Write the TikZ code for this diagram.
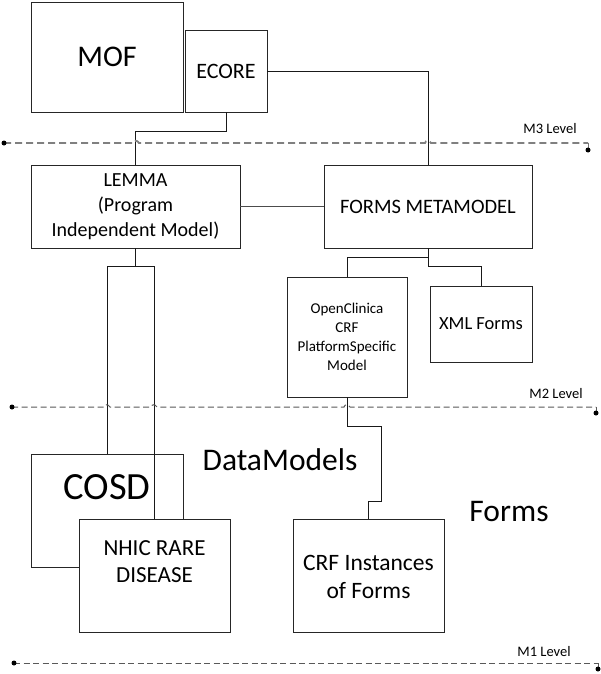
\documentclass[tikz,border=0pt]{standalone}
\usepackage{fontspec}
\setmainfont{Carlito}
\begin{document}
\begin{tikzpicture}[x=1pt,y=-1pt,
  box/.style={draw=black!85,line width=0.8pt,fill=white,inner sep=0pt,align=center},
  conn/.style={draw=black!90,line width=0.8pt},
  lvl/.style={draw=black!65,line width=1pt,dash pattern=on 6pt off 3.5pt},
  lvlthick/.style={draw=black!50,line width=1.8pt,dash pattern=on 7pt off 4pt},
  enddot/.style={fill=black,draw=none},
  lbl/.style={inner sep=0pt,align=center}]
\useasboundingbox (0,0) rectangle (601,674);
\fill[white] (0,0) rectangle (601,674);

% boxes
\node[box,minimum width=152pt,minimum height=110pt,font=\fontsize{30}{36}\selectfont] (mof) at (107,57) {MOF};
\node[box,minimum width=82pt,minimum height=82pt,font=\fontsize{22}{26}\selectfont] (ecore) at (226,71) {ECORE};
\node[box,minimum width=209pt,minimum height=83pt,font=\fontsize{20}{25}\selectfont] (lemma) at (135.5,206.5) {LEMMA\\(Program\\Independent Model)};
\node[box,minimum width=208pt,minimum height=83pt,font=\fontsize{20.5}{25}\selectfont] (forms) at (428,206.5) {FORMS METAMODEL};
\node[box,minimum width=120pt,minimum height=120pt,font=\fontsize{15}{19}\selectfont] (oc) at (347,337) {OpenClinica\\CRF\\PlatformSpecific\\Model};
\node[box,minimum width=102pt,minimum height=76pt,font=\fontsize{18.5}{22}\selectfont] (xml) at (481,324) {XML Forms};
\node[box,minimum width=152pt,minimum height=113pt] (cosd) at (107,510.5) {};
\node[lbl,font=\fontsize{38.5}{44}\selectfont] (cosdtxt) at (107,487) {COSD};
\node[box,minimum width=151pt,minimum height=113pt] (crf) at (368.5,575.5) {};
\node[lbl,font=\fontsize{23.5}{28}\selectfont] (crftxt) at (368.5,577) {CRF Instances\\of Forms};

% connectors
\draw[conn] (ecore.south) -- ++(0,19) -| (lemma.north);
\draw[conn] (ecore.east) -| (forms.north);
\draw[draw=black!70,line width=1.3pt] (lemma.east) -- (forms.west);
\draw[conn] (forms.south) -- ++(0,9) -| (oc.north);
\draw[conn] (forms.south) -- ++(0,18) -| (xml.north);
\draw[conn] (oc.south) -- ++(0,29) -- ++(34,0) -- ++(0,75) -| (crf.north);
\draw[conn] (lemma.south) -- ++(0,18) -| (cosd.north);
\draw[conn] (lemma.south) -- ++(0,18) -| (154.5,519);

\node[box,minimum width=151pt,minimum height=113pt] (nhic) at (154.5,575.5) {};
\node[lbl,font=\fontsize{23}{27}\selectfont] (nhictxt) at (154.5,561.5) {NHIC RARE\\DISEASE};

% free labels
\node[lbl,font=\fontsize{31.5}{37}\selectfont] (dm) at (280,460) {DataModels};
\node[lbl,font=\fontsize{31.5}{37}\selectfont] (fm) at (509,512) {Forms};
\node[lbl,font=\fontsize{14.5}{17}\selectfont] (m3) at (550,129) {M3 Level};
\node[lbl,font=\fontsize{14.5}{17}\selectfont] (m2) at (556,394) {M2 Level};
\node[lbl,font=\fontsize{14.5}{17}\selectfont] (m1) at (544,652) {M1 Level};

% level lines
\coordinate (m3a) at (4,143);
\coordinate (m3b) at (588,143);
\coordinate (m3c) at (588,150);
\draw[lvlthick] (m3a) -- (133,143) .. controls (134,140) and (137,140) .. (139,143)
  -- (425,143) .. controls (426,140) and (429,140) .. (431,143) -- (m3b);
\draw[draw=black!55,line width=1pt] (m3b) -- (m3c);
\fill[enddot] (m3a) circle (2.5pt);
\fill[enddot] (m3c) circle (2.5pt);

\coordinate (m2a) at (12,407);
\coordinate (m2b) at (596,407);
\coordinate (m2c) at (596,413);
\draw[lvl] (m2a) -- (104,407) .. controls (105,404) and (108,404) .. (110,407)
  -- (151,407) .. controls (152,404) and (155,404) .. (157,407)
  -- (344,407) .. controls (345,404) and (348,404) .. (350,407) -- (m2b);
\draw[draw=black!65,line width=0.8pt] (m2b) -- (m2c);
\fill[enddot] (m2a) circle (2.5pt);
\fill[enddot] (m2c) circle (2.5pt);

\coordinate (m1a) at (14,663);
\coordinate (m1b) at (598,663);
\coordinate (m1c) at (598,669);
\draw[lvl] (m1a) -- (m1b);
\draw[draw=black!65,line width=0.8pt] (m1b) -- (m1c);
\fill[enddot] (m1a) circle (2.5pt);
\fill[enddot] (m1c) circle (2.5pt);
\end{tikzpicture}
\end{document}
